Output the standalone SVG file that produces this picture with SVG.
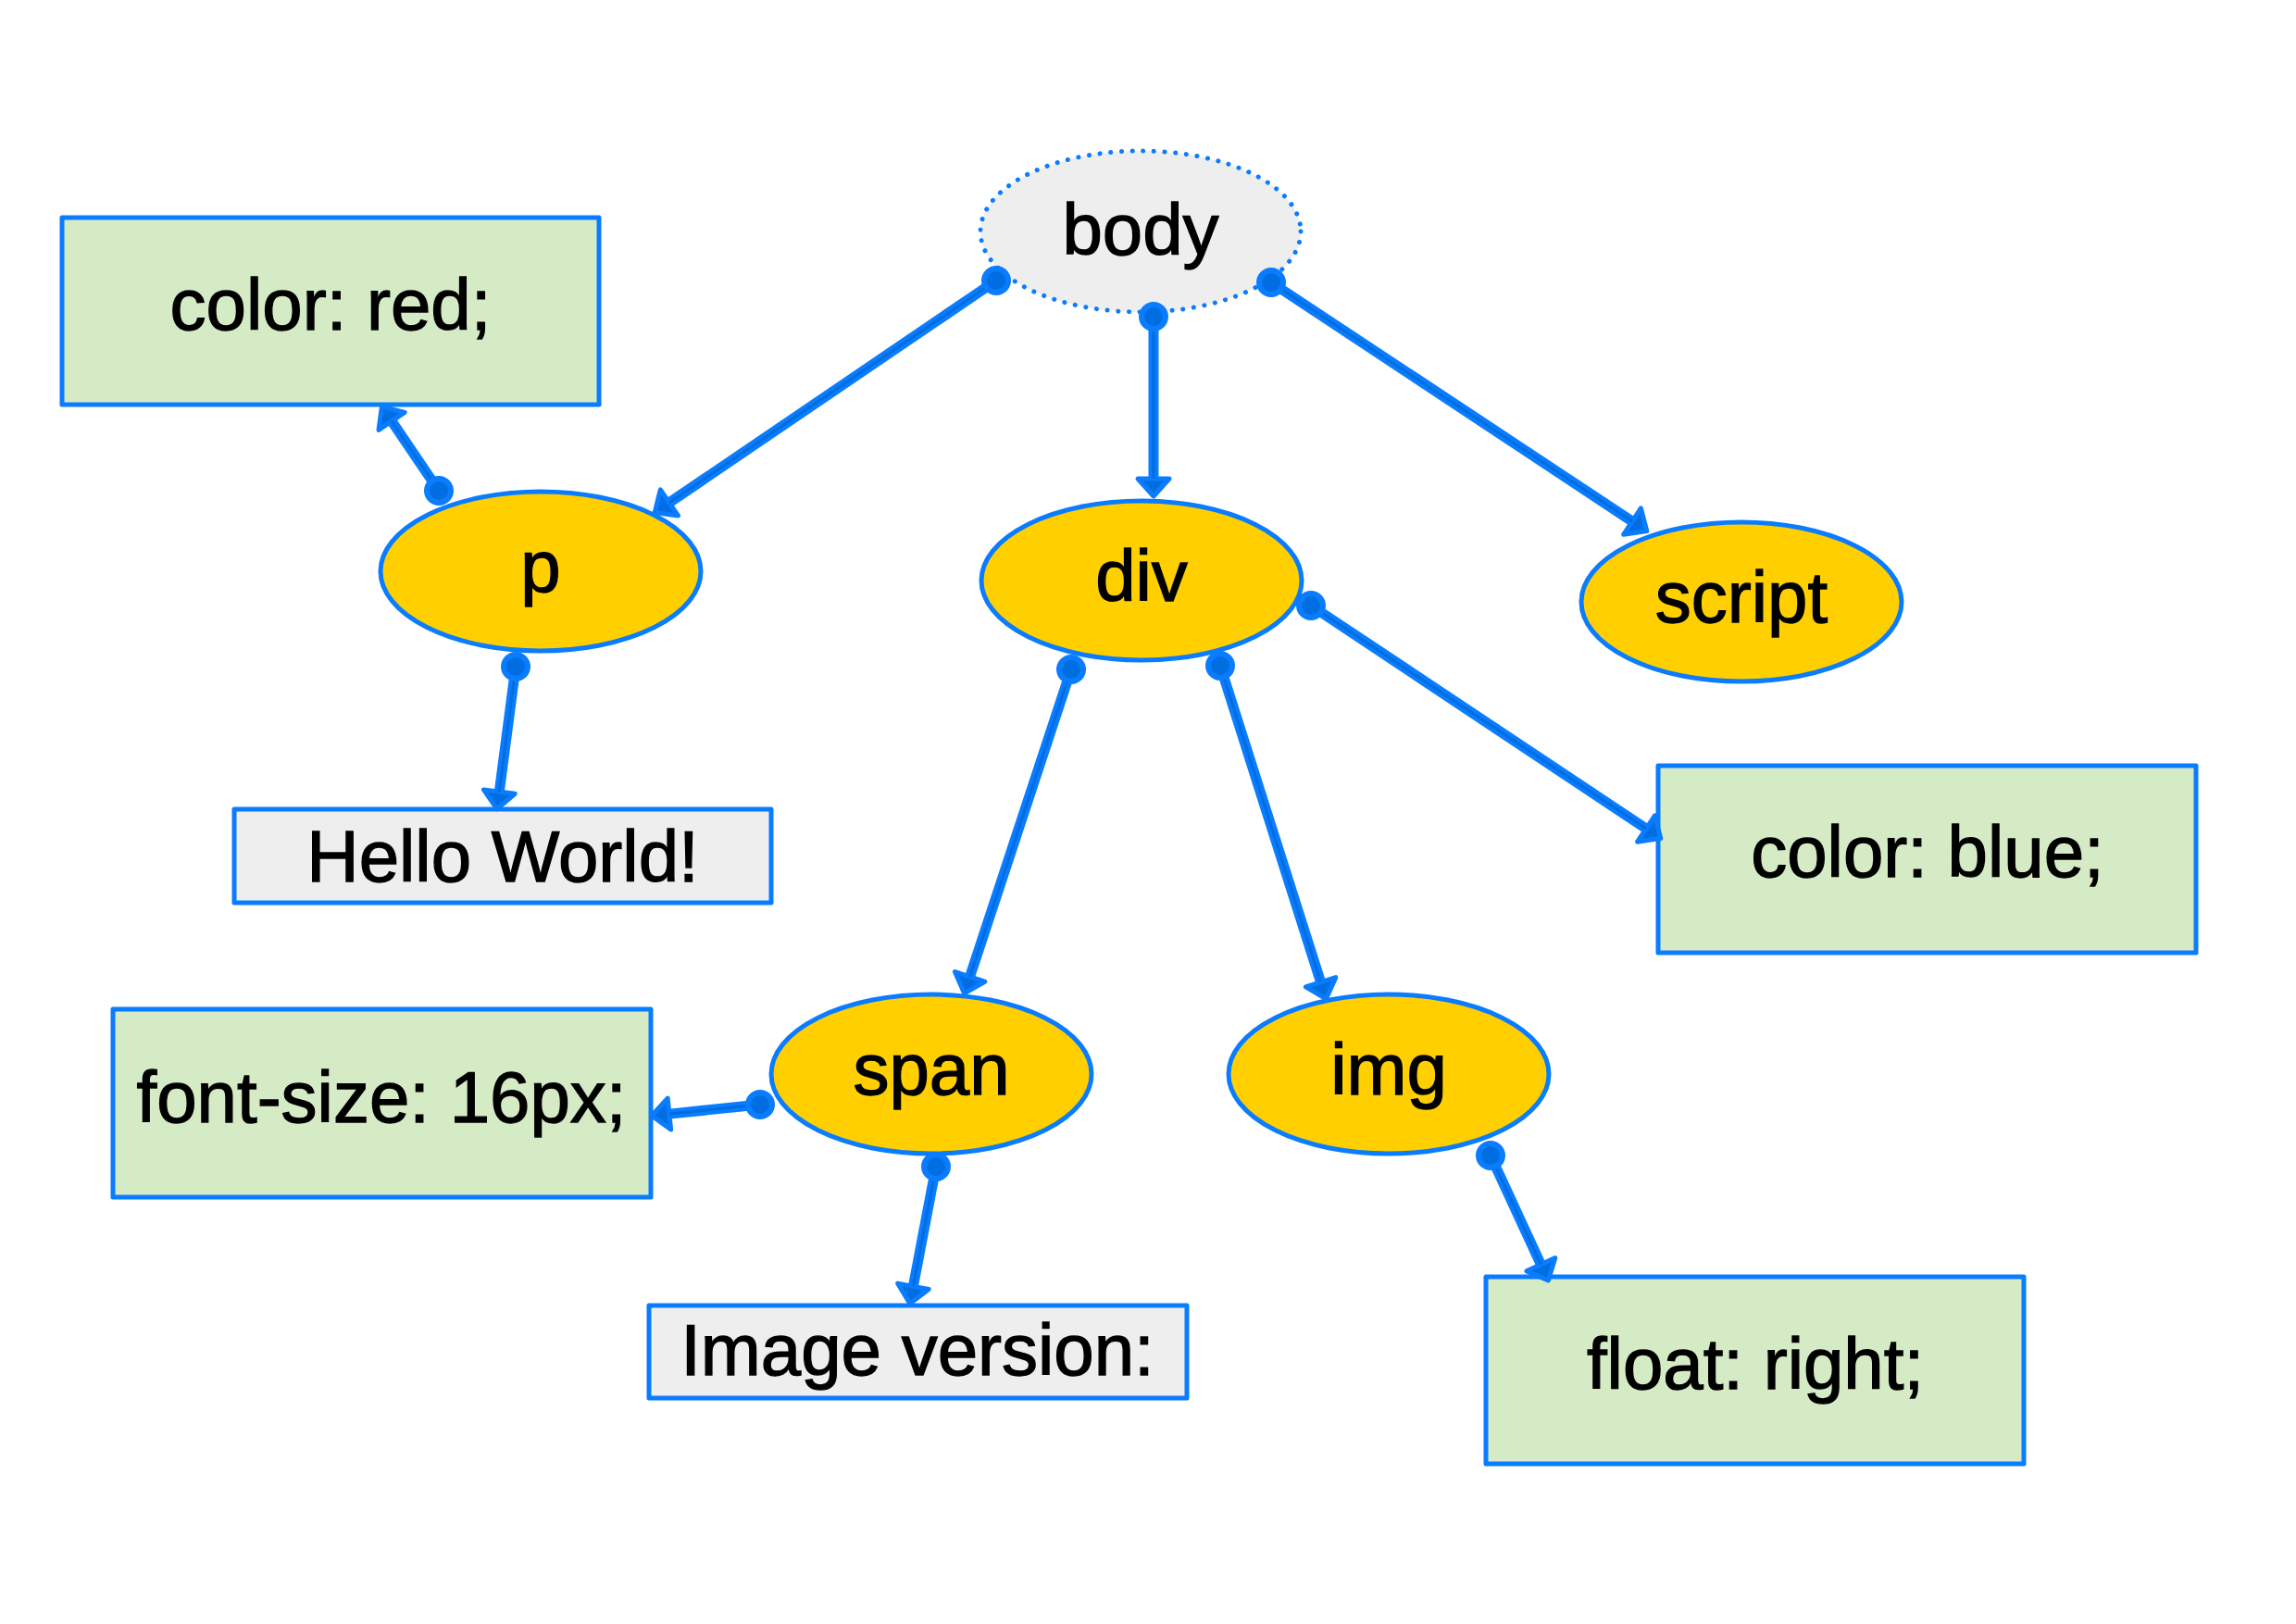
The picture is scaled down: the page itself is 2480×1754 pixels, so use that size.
<svg xmlns="http://www.w3.org/2000/svg" width="2480" height="1754" viewBox="0 0 2480 1754">
<defs>
<style>
.lbl{font-family:"Liberation Sans",Arial,Helvetica,sans-serif;font-size:78px;fill:#000;stroke:#000;stroke-width:1.3;text-anchor:middle}
.el{fill:#ffcf00;stroke:#0a7cff;stroke-width:5}
.green{fill:#d5ebc5;stroke:#0a7cff;stroke-width:5;stroke-linejoin:round}
.grey{fill:#eeeeee;stroke:#0a7cff;stroke-width:5;stroke-linejoin:round}
.outer{fill:none;stroke:#0a7cff;stroke-width:11}
.inner{fill:none;stroke:#006ee0;stroke-width:3}
.dot{fill:#006ee0;stroke:#0a7cff;stroke-width:6}
</style>
<marker id="ah" markerUnits="userSpaceOnUse" markerWidth="40" markerHeight="40" refX="0" refY="0" orient="auto" overflow="visible">
<path d="M0,-17 L19,0 L0,17 Z" fill="#006ee0" stroke="#0a7cff" stroke-width="5" stroke-linejoin="round"/>
</marker>
</defs>
<rect width="2480" height="1754" fill="#ffffff"/>

<g id="body">
<ellipse cx="1232" cy="250" rx="173" ry="87" fill="#eeeeee" stroke="#0a7cff" stroke-width="5" stroke-dasharray="0.1 11.6" stroke-linecap="round"/>
<text class="lbl" x="1232" y="275">body</text>
</g>
<g id="p">
<ellipse class="el" cx="584" cy="617" rx="173" ry="86"/>
<text class="lbl" x="584" y="639">p</text>
</g>
<g id="div">
<ellipse class="el" cx="1233" cy="627" rx="173" ry="86"/>
<text class="lbl" x="1233" y="649">div</text>
</g>
<g id="script">
<ellipse class="el" cx="1881" cy="650" rx="173" ry="86"/>
<text class="lbl" x="1881" y="672">script</text>
</g>
<g id="span">
<ellipse class="el" cx="1006" cy="1160" rx="173" ry="86"/>
<text class="lbl" x="1006" y="1182">span</text>
</g>
<g id="img">
<ellipse class="el" cx="1500" cy="1160" rx="173" ry="86"/>
<text class="lbl" x="1500" y="1182">img</text>
</g>
<g id="color-red">
<rect class="green" x="67" y="235" width="580" height="202"/>
<text class="lbl" x="357" y="356">color: red;</text>
</g>
<g id="hello-world">
<rect class="grey" x="253" y="874" width="580" height="101"/>
<text class="lbl" x="543" y="952">Hello World!</text>
</g>
<g id="color-blue">
<rect class="green" x="1791" y="827" width="581" height="202"/>
<text class="lbl" x="2082" y="947">color: blue;</text>
</g>
<g id="font-size">
<rect class="green" x="122" y="1090" width="581" height="203"/>
<text class="lbl" x="412" y="1212">font-size: 16px;</text>
</g>
<g id="image-version">
<rect class="grey" x="701" y="1410" width="581" height="100"/>
<text class="lbl" x="991" y="1485">Image version:</text>
</g>
<g id="float-right">
<rect class="green" x="1605" y="1379" width="581" height="202"/>
<text class="lbl" x="1896" y="1500">float: right;</text>
</g>

<g id="connectors">
<g>
<path class="outer" d="M1076,303 L722.9,542.9" marker-end="url(#ah)"/>
<path class="inner" d="M1076,303 L722.9,542.9"/>
<circle class="dot" cx="1076" cy="303" r="13"/>
</g>
<g>
<path class="outer" d="M1246,342 L1246,517" marker-end="url(#ah)"/>
<path class="inner" d="M1246,342 L1246,517"/>
<circle class="dot" cx="1246" cy="342" r="13"/>
</g>
<g>
<path class="outer" d="M1373,305 L1763,563.1" marker-end="url(#ah)"/>
<path class="inner" d="M1373,305 L1763,563.1"/>
<circle class="dot" cx="1373" cy="305" r="13"/>
</g>
<g>
<path class="outer" d="M474,530 L423.1,454.9" marker-end="url(#ah)"/>
<path class="inner" d="M474,530 L423.1,454.9"/>
<circle class="dot" cx="474" cy="530" r="13"/>
</g>
<g>
<path class="outer" d="M557,720 L539.3,855.1" marker-end="url(#ah)"/>
<path class="inner" d="M557,720 L539.3,855.1"/>
<circle class="dot" cx="557" cy="720" r="13"/>
</g>
<g>
<path class="outer" d="M1157,723 L1047.6,1054.9" marker-end="url(#ah)"/>
<path class="inner" d="M1157,723 L1047.6,1054.9"/>
<circle class="dot" cx="1157" cy="723" r="13"/>
</g>
<g>
<path class="outer" d="M1318,719 L1426.6,1060.8" marker-end="url(#ah)"/>
<path class="inner" d="M1318,719 L1426.6,1060.8"/>
<circle class="dot" cx="1318" cy="719" r="13"/>
</g>
<g>
<path class="outer" d="M1416,654 L1778,895" marker-end="url(#ah)"/>
<path class="inner" d="M1416,654 L1778,895"/>
<circle class="dot" cx="1416" cy="654" r="13"/>
</g>
<g>
<path class="outer" d="M821,1193 L722.9,1203.1" marker-end="url(#ah)"/>
<path class="inner" d="M821,1193 L722.9,1203.1"/>
<circle class="dot" cx="821" cy="1193" r="13"/>
</g>
<g>
<path class="outer" d="M1011,1260 L986.4,1389.3" marker-end="url(#ah)"/>
<path class="inner" d="M1011,1260 L986.4,1389.3"/>
<circle class="dot" cx="1011" cy="1260" r="13"/>
</g>
<g>
<path class="outer" d="M1610,1248 L1664.4,1365.7" marker-end="url(#ah)"/>
<path class="inner" d="M1610,1248 L1664.4,1365.7"/>
<circle class="dot" cx="1610" cy="1248" r="13"/>
</g>
</g>
</svg>
